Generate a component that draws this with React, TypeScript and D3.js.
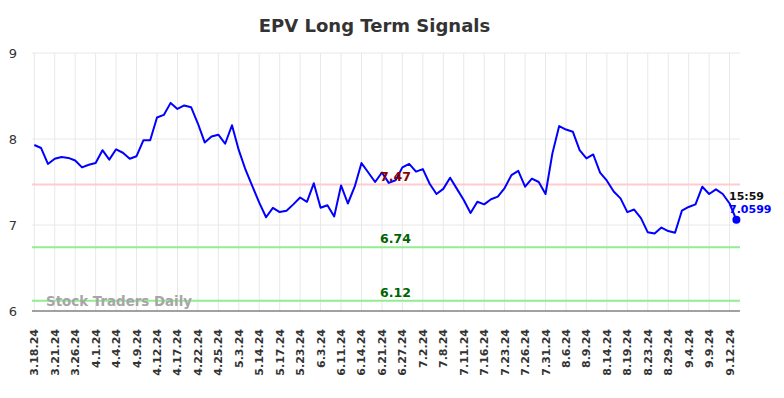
import React from "react";
import * as d3 from "d3";

const tickLabels = [
  "3.18.24","3.21.24","3.26.24","4.1.24","4.4.24","4.9.24","4.12.24","4.17.24","4.22.24","4.25.24",
  "5.3.24","5.14.24","5.17.24","5.23.24","6.3.24","6.11.24","6.14.24","6.21.24","6.27.24","7.2.24",
  "7.8.24","7.11.24","7.16.24","7.23.24","7.26.24","7.31.24","8.6.24","8.9.24","8.14.24","8.19.24",
  "8.23.24","8.29.24","9.4.24","9.9.24","9.12.24",
];

const prices = [
  7.93, 7.895, 7.71, 7.77, 7.79, 7.78, 7.75, 7.67, 7.70, 7.72,
  7.87, 7.76, 7.88, 7.84, 7.77, 7.80, 7.985, 7.985, 8.25, 8.28,
  8.42, 8.35, 8.39, 8.37, 8.18, 7.96, 8.03, 8.05, 7.945, 8.16,
  7.87, 7.64, 7.45, 7.26, 7.09, 7.20, 7.15, 7.166, 7.24, 7.32,
  7.27, 7.485, 7.20, 7.23, 7.10, 7.46, 7.25, 7.445, 7.72, 7.61,
  7.50, 7.61, 7.49, 7.52, 7.67, 7.71, 7.62, 7.65, 7.48, 7.36,
  7.42, 7.55, 7.42, 7.29, 7.14, 7.27, 7.24, 7.30, 7.33, 7.43,
  7.58, 7.63, 7.445, 7.54, 7.50, 7.36, 7.83, 8.15, 8.11, 8.085,
  7.87, 7.775, 7.82, 7.61, 7.515, 7.39, 7.31, 7.15, 7.18, 7.08,
  6.915, 6.90, 6.97, 6.93, 6.91, 7.166, 7.21, 7.24, 7.445, 7.36,
  7.415, 7.36, 7.25, 7.0599,
];

const yTicks = [6, 7, 8, 9];
const resistance = [7.47];
const supports = [6.74, 6.12];
const lastTime = "15:59";
const lastLabel = "7.0599";
const tickEvery = 3;

const W = 784;
const H = 398;
const left = 32;
const right = 740;
const top = 53;
const bottom = 311;
const FONT = "DejaVu Sans, sans-serif";

export default function App() {
  const x = d3.scaleLinear().domain([0, prices.length - 1]).range([34.3, 736.4]);
  const y = d3.scaleLinear().domain([6, 9]).range([bottom, top]);
  const line = d3
    .line<number>()
    .x((_, i) => x(i))
    .y((d) => y(d));
  const n = prices.length;
  const lastX = x(n - 1);
  const lastY = y(prices[n - 1]);
  const labelX = 395.5;

  return (
    <svg
      width={W}
      height={H}
      style={{ position: "absolute", left: 0, top: 0, background: "#fff" }}
      fontFamily={FONT}
    >
      <rect x={0} y={0} width={W} height={H} fill="#fff" />
      <text x={374.5} y={32} textAnchor="middle" fontSize={18} fontWeight="bold" fill="#333">
        EPV Long Term Signals
      </text>
      {tickLabels.map((t, k) => (
        <line
          key={"vg" + t}
          x1={x(k * tickEvery)}
          x2={x(k * tickEvery)}
          y1={top}
          y2={bottom}
          stroke="#e8e8e8"
          strokeWidth={1}
        />
      ))}
      {yTicks.filter((v) => v !== 6).map((v) => (
        <line key={"hg" + v} x1={left} x2={right} y1={y(v)} y2={y(v)} stroke="#e8e8e8" strokeWidth={1} />
      ))}
      {yTicks.map((v) => (
        <text key={"yt" + v} x={13} y={y(v) + 5} textAnchor="middle" fontSize={13} fill="#333">
          {v}
        </text>
      ))}
      {resistance.map((v) => (
        <line key={"r" + v} x1={left} x2={right} y1={y(v)} y2={y(v)} stroke="#ffcccc" strokeWidth={2} />
      ))}
      {supports.map((v) => (
        <line key={"s" + v} x1={left} x2={right} y1={y(v)} y2={y(v)} stroke="#90ee90" strokeWidth={2} />
      ))}
      <text x={46} y={306} fontSize={13.4} fontWeight="bold" fill="#a6a6a6">
        Stock Traders Daily
      </text>
      <line x1={left} x2={right} y1={bottom} y2={bottom} stroke="#444" strokeWidth={1.2} />
      {tickLabels.map((t, k) => {
        const tx = x(k * tickEvery) + 4;
        const ty = 329;
        return (
          <text
            key={"xt" + t}
            transform={`translate(${tx},${ty}) rotate(-90)`}
            textAnchor="end"
            fontSize={11}
            fontWeight="bold"
            fill="#333"
          >
            {t}
          </text>
        );
      })}
      <path d={line(prices) || ""} fill="none" stroke="#0000ff" strokeWidth={2} strokeLinejoin="round" />
      {resistance.map((v) => (
        <text key={"rl" + v} x={labelX} y={y(v) - 4} textAnchor="middle" fontSize={12.5} fontWeight="bold" fill="#8b0000">
          {v.toFixed(2)}
        </text>
      ))}
      {supports.map((v) => (
        <text key={"sl" + v} x={labelX} y={y(v) - 4} textAnchor="middle" fontSize={12.5} fontWeight="bold" fill="#006400">
          {v.toFixed(2)}
        </text>
      ))}
      <circle cx={lastX} cy={lastY} r={4} fill="#0000ff" />
      <text x={729} y={200} fontSize={11} fontWeight="bold" fill="#111">
        {lastTime}
      </text>
      <text x={729} y={213} fontSize={11} fontWeight="bold" fill="#0000ff">
        {lastLabel}
      </text>
    </svg>
  );
}
